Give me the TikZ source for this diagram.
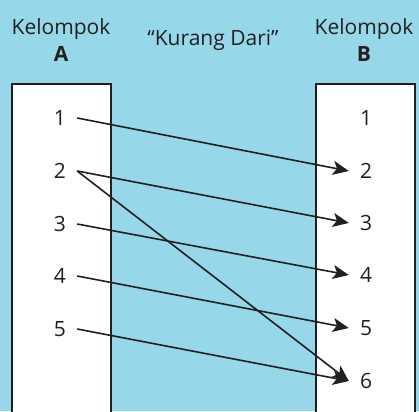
\documentclass[tikz,border=0pt]{standalone}
\usepackage{fontspec}
\setmainfont{Open Sans}
\usetikzlibrary{arrows.meta}
\definecolor{skyback}{RGB}{150,216,233}
\definecolor{inkgray}{RGB}{35,31,32}

\begin{document}
\begin{tikzpicture}[x=1pt,y=-1pt,
		num/.style={inner xsep=11pt,inner ysep=2pt,text=inkgray,font=\fontsize{21}{24}\selectfont},
		head/.style={align=center,text=inkgray,font=\fontsize{21}{27}\selectfont},
		maps/.style={draw=inkgray,line width=1.6pt,-{Stealth[length=16pt,width=14pt,inset=4pt]}}]
			\useasboundingbox (0,0) rectangle (419,411);
			\clip (0,0) rectangle (419,411);
			\fill [skyback] (0,0) rectangle (419,411);
			% the two groups
			\draw [fill=white,draw=inkgray,line width=1.5pt] (12,84) rectangle (111,425);
			\draw [fill=white,draw=inkgray,line width=1.5pt] (316,84) rectangle (415,425);
			\node [head] (headA) at (61,40) {Kelompok\\\textbf{A}};
			\node [head] (headB) at (364,40) {Kelompok\\\textbf{B}};
			\node [head] (relation) at (213,40) {“Kurang Dari”};
			% group A
			\node [num] (a1) at (60,118) {1};
			\node [num] (a2) at (60,171) {2};
			\node [num] (a3) at (60,224) {3};
			\node [num] (a4) at (60,276) {4};
			\node [num] (a5) at (60,329) {5};
			% group B
			\node [num] (b1) at (366,118) {1};
			\node [num] (b2) at (366,171) {2};
			\node [num] (b3) at (366,223) {3};
			\node [num] (b4) at (366,275) {4};
			\node [num] (b5) at (366,328) {5};
			\node [num] (b6) at (366,381) {6};
			% pairs
			\draw [maps] (a1.east) -- (b2.west);
			\draw [maps] (a2.east) -- (b3.west);
			\draw [maps] (a2.east) -- (b6.west);
			\draw [maps] (a3.east) -- (b4.west);
			\draw [maps] (a4.east) -- (b5.west);
			\draw [maps] (a5.east) -- (b6.west);
		\end{tikzpicture}
\end{document}
